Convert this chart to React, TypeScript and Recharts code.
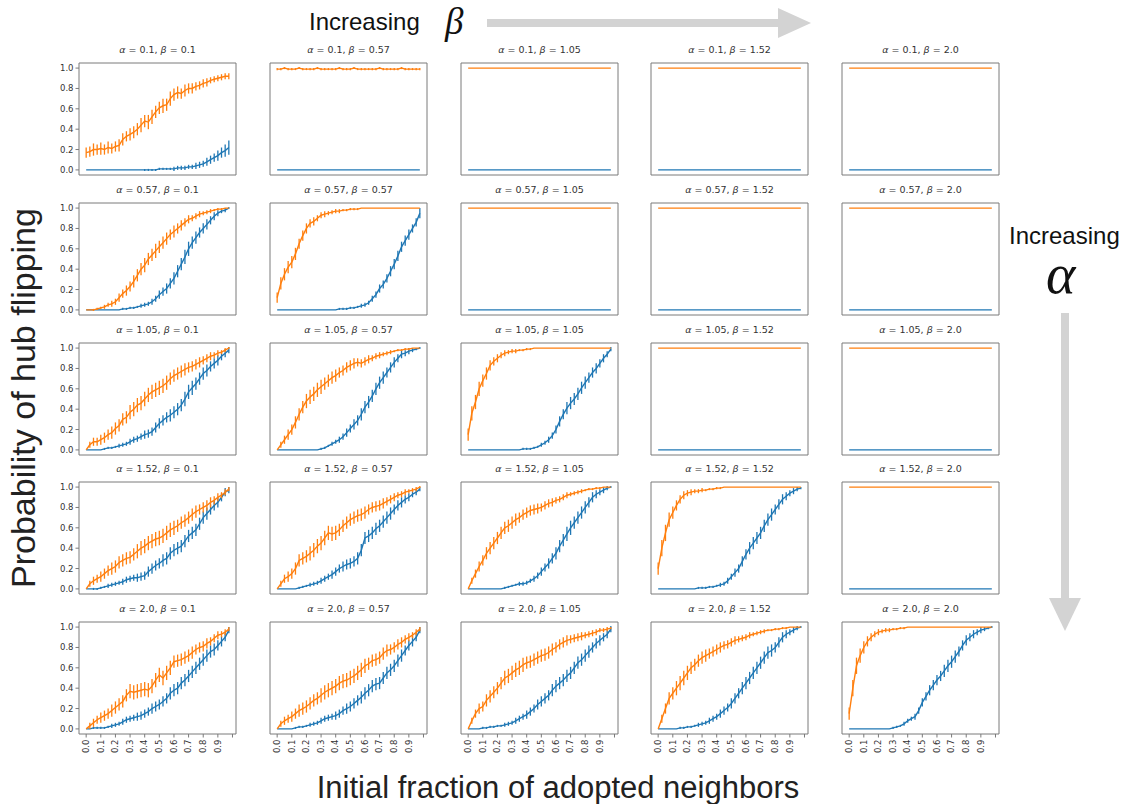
import React from 'react';
import { LineChart, Line, XAxis, YAxis, ErrorBar, ReferenceArea } from 'recharts';

// x positions of the 40 samples (initial fraction of adopted neighbors)
const X = [0, 0.025, 0.05, 0.075, 0.1, 0.125, 0.15, 0.175, 0.2, 0.225, 0.25, 0.275, 0.3, 0.325, 0.35, 0.375, 0.4, 0.425, 0.45, 0.475, 0.5, 0.525, 0.55, 0.575, 0.6, 0.625, 0.65, 0.675, 0.7, 0.725, 0.75, 0.775, 0.8, 0.825, 0.85, 0.875, 0.9, 0.925, 0.95, 0.975];

const ALPHAS = ['0.1', '0.57', '1.05', '1.52', '2.0'];
const BETAS = ['0.1', '0.57', '1.05', '1.52', '2.0'];
const X_TICKS = [0, 0.1, 0.2, 0.3, 0.4, 0.5, 0.6, 0.7, 0.8, 0.9, 1.0];
const X_TICK_LABELS = ['0.0', '0.1', '0.2', '0.3', '0.4', '0.5', '0.6', '0.7', '0.8', '0.9', ''];
const Y_TICKS = [0, 0.2, 0.4, 0.6, 0.8, 1.0];
const Y_TICK_LABELS = ['0.0', '0.2', '0.4', '0.6', '0.8', '1.0'];

// values in hundredths (probability x 100); O = orange series, B = blue series, E* = error half-length
const FLAT_ONE = [100,100,100,100,100,100,100,100,100,100, 100,100,100,100,100,100,100,100,100,100, 100,100,100,100,100,100,100,100,100,100, 100,100,100,100,100,100,100,100,100,100];
const FLAT_ZERO = [0,0,0,0,0,0,0,0,0,0, 0,0,0,0,0,0,0,0,0,0, 0,0,0,0,0,0,0,0,0,0, 0,0,0,0,0,0,0,0,0,0];

// alpha = 0.1
const O_0_0 = [17,18,20,20,21,20,22,21,23,24, 30,33,35,37,40,44,48,47,52,57, 61,63,64,70,74,76,75,78,80,80, 82,83,85,86,88,89,90,91,92,92];
const EO_0_0 = [5,5,6,5,6,5,6,5,5,6, 6,5,6,6,6,7,6,7,7,6, 6,7,6,7,6,6,5,6,5,5, 4,4,4,4,3,3,3,3,3,3];
const B_0_0 = [0,0,0,0,0,0,0,0,0,0, 0,0,0,0,0,0,0,0,0,0, 1,1,1,1,1,2,2,2,3,3, 4,5,6,8,10,12,14,17,19,22];
const EB_0_0 = [0,0,0,0,0,0,0,0,0,0, 0,0,0,0,0,0,1,1,1,1, 1,1,1,1,2,2,2,2,2,2, 3,3,3,4,4,4,5,5,6,7];
const O_0_1 = [99,99,100,99,99,99,100,99,99,99, 99,100,99,99,99,99,99,100,99,99, 99,100,99,99,99,99,99,99,100,99, 99,99,99,99,100,99,99,99,99,99];
const EO_0_1 = [1,1,1,1,1,1,1,1,1,1, 1,1,1,1,1,1,1,1,1,1, 1,1,1,1,1,1,1,1,1,1, 1,1,1,1,1,1,1,1,1,1];

// alpha = 0.57
const O_1_0 = [0,0,0,1,2,3,5,6,8,12, 16,19,23,28,34,40,44,50,54,58, 62,66,70,74,77,80,83,86,89,90, 92,94,95,96,97,98,99,99,100,100];
const EO_1_0 = [0,0,1,1,1,2,2,3,3,4, 4,5,5,6,6,6,7,6,6,7, 6,6,6,5,6,5,5,4,4,3, 3,3,2,2,2,1,1,1,0,0];
const B_1_0 = [0,0,0,0,0,0,0,0,0,0, 1,1,2,2,3,4,5,6,8,11, 15,18,21,26,31,38,45,52,60,66, 71,76,80,84,88,92,95,97,98,100];
const EB_1_0 = [0,0,0,0,0,0,0,0,0,0, 1,1,1,1,1,2,2,2,3,3, 4,4,5,5,6,6,6,7,7,6, 6,5,5,5,4,4,3,2,2,1];
const O_1_1 = [12,26,35,42,47,55,65,73,80,85, 87,90,93,94,95,96,97,97,98,98, 99,99,99,100,100,100,100,100,100,100, 100,100,100,100,100,100,100,100,100,100];
const EO_1_1 = [5,6,6,6,6,6,5,5,5,4, 4,3,3,3,2,2,2,2,1,1, 1,1,1,0,0,0,0,0,0,0, 0,0,0,0,0,0,0,0,0,0];
const B_1_1 = [0,0,0,0,0,0,0,0,0,0, 0,0,0,0,0,0,0,1,1,1, 2,2,3,4,5,7,11,15,21,25, 31,38,45,53,62,68,74,80,86,95];
const EB_1_1 = [0,0,0,0,0,0,0,0,0,0, 0,0,0,0,0,0,0,1,1,1, 1,1,1,2,2,2,3,3,4,4, 4,5,5,5,5,5,5,4,4,5];

// alpha = 1.05
const O_2_0 = [0,5,8,8,10,12,15,17,21,24, 30,32,37,40,44,46,50,54,57,59, 61,63,66,70,73,75,77,79,81,82, 84,86,88,90,92,93,95,96,98,100];
const EO_2_0 = [0,3,4,4,5,5,5,6,6,6, 6,6,7,7,7,7,7,7,7,7, 7,7,7,6,6,6,6,6,5,5, 5,5,4,4,4,3,3,2,2,1];
const B_2_0 = [0,0,0,0,0,1,2,2,3,4, 5,6,8,10,11,13,15,16,18,22, 26,29,32,34,37,40,44,50,57,61, 65,70,75,78,82,85,88,92,95,98];
const EB_2_0 = [0,0,0,0,0,1,1,1,1,2, 2,2,3,3,3,3,4,4,4,5, 5,5,5,6,6,6,6,7,7,7, 6,6,6,6,5,5,5,4,4,3];
const O_2_1 = [0,5,10,15,20,27,35,42,48,52, 55,59,62,65,68,71,73,76,78,81, 83,85,86,85,87,89,90,92,93,94, 95,96,97,98,98,99,99,100,100,100];
const EO_2_1 = [0,3,4,5,5,6,6,6,7,7, 7,7,7,6,6,6,6,5,5,5, 5,5,4,4,4,4,3,3,3,2, 2,2,1,1,1,1,1,0,0,0];
const B_2_1 = [0,0,0,0,0,0,0,0,0,0, 0,0,1,2,4,6,8,10,13,17, 21,25,29,35,42,47,53,60,66,71, 76,81,86,90,94,95,97,98,99,100];
const EB_2_1 = [0,0,0,0,0,0,0,0,0,0, 0,0,1,1,1,2,2,3,3,4, 4,5,5,6,6,6,6,6,6,6, 5,5,5,4,4,3,3,2,1,1];
const O_2_2 = [15,36,47,60,68,75,83,87,90,93, 95,96,97,97,98,98,99,99,100,100, 100,100,100,100,100,100,100,100,100,100, 100,100,100,100,100,100,100,100,100,100];
const EO_2_2 = [6,7,7,7,6,6,5,4,4,3, 3,2,2,2,1,1,1,1,0,0, 0,0,0,0,0,0,0,0,0,0, 0,0,0,0,0,0,0,0,0,0];
const B_2_2 = [0,0,0,0,0,0,0,0,0,0, 0,0,0,0,0,1,1,1,2,3, 5,7,10,14,20,28,35,41,46,50, 55,61,66,71,76,80,85,90,94,99];
const EB_2_2 = [0,0,0,0,0,0,0,0,0,0, 0,0,0,0,0,1,1,1,1,1, 2,2,3,3,4,5,5,6,6,6, 6,6,6,5,5,5,4,4,3,2];

// alpha = 1.52
const O_3_0 = [0,5,8,10,12,15,18,20,22,26, 28,30,31,34,37,40,42,45,47,49, 50,52,55,58,60,62,65,67,70,73, 76,78,80,82,85,87,90,92,95,98];
const EO_3_0 = [0,3,4,4,5,5,5,6,6,6, 6,6,6,6,7,7,7,7,7,7, 7,7,7,7,7,6,6,6,6,6, 6,5,5,5,5,4,4,3,3,2];
const B_3_0 = [0,0,0,0,1,2,3,4,5,6, 7,9,10,11,11,12,13,17,20,23, 25,28,30,35,38,40,42,47,52,55, 58,64,70,74,78,82,85,90,95,97];
const EB_3_0 = [0,0,1,1,1,1,2,2,2,2, 3,3,3,3,4,4,4,5,5,5, 5,6,6,6,6,6,6,6,6,6, 6,6,6,6,5,5,5,4,4,3];
const O_3_1 = [0,5,10,12,15,20,28,30,32,35, 38,42,45,50,55,54,55,58,62,65, 68,70,72,73,75,78,80,81,82,84, 86,88,90,92,93,95,96,97,98,100];
const EO_3_1 = [0,3,4,5,5,6,6,6,6,7, 7,7,7,7,7,7,7,6,6,6, 6,6,6,6,6,5,5,5,5,5, 4,4,4,3,3,3,2,2,2,1];
const B_3_1 = [0,0,0,0,0,0,1,2,3,4, 5,6,8,10,12,14,17,20,22,24, 25,27,30,38,50,52,55,59,62,66, 70,74,78,82,85,88,90,93,95,98];
const EB_3_1 = [0,0,0,0,0,0,1,1,1,2, 2,2,3,3,3,4,4,4,5,5, 5,5,6,6,6,6,6,6,6,6, 6,6,5,5,5,4,4,3,3,2];
const O_3_2 = [0,8,15,22,28,35,40,45,50,55, 60,62,65,68,70,73,75,77,78,79, 80,82,84,85,87,88,90,92,93,94, 95,96,97,98,98,99,99,100,100,100];
const EO_3_2 = [0,3,4,5,5,6,6,6,6,6, 6,6,6,6,5,5,5,5,5,5, 4,4,4,4,3,3,3,3,2,2, 2,2,1,1,1,1,1,0,0,0];
const B_3_2 = [0,0,0,0,0,0,0,0,0,0, 1,2,3,4,5,5,6,8,10,13, 17,21,25,30,35,42,48,54,60,65, 70,75,80,85,90,93,95,97,99,100];
const EB_3_2 = [0,0,0,0,0,0,0,0,0,0, 1,1,1,1,2,2,2,2,3,3, 4,4,5,5,6,6,6,7,7,6, 6,6,6,5,5,4,3,3,2,1];
const O_3_3 = [20,40,55,68,75,82,88,92,94,95, 96,96,97,97,98,98,99,99,100,100, 100,100,100,100,100,100,100,100,100,100, 100,100,100,100,100,100,100,100,100,100];
const EO_3_3 = [6,8,8,7,6,5,4,4,3,3, 2,2,2,1,1,1,1,1,0,0, 0,0,0,0,0,0,0,0,0,0, 0,0,0,0,0,0,0,0,0,0];
const B_3_3 = [0,0,0,0,0,0,0,0,0,0, 0,1,1,1,2,2,3,4,5,8, 12,16,20,27,34,40,45,50,55,62, 68,73,78,83,88,91,94,96,98,99];
const EB_3_3 = [0,0,0,0,0,0,0,0,0,0, 0,1,1,1,1,1,1,2,2,3, 3,4,4,5,5,6,6,6,6,6, 6,6,5,5,5,4,3,3,2,1];

// alpha = 2.0
const O_4_0 = [0,3,6,9,11,13,15,18,21,24, 27,33,37,36,37,38,39,38,42,48, 53,50,55,60,66,67,68,70,72,75, 78,80,81,84,86,89,92,93,95,98];
const EO_4_0 = [0,3,4,4,5,5,5,6,6,6, 6,6,7,7,7,7,7,7,7,7, 7,7,7,7,6,6,6,6,6,6, 5,5,5,5,4,4,4,3,3,2];
const B_4_0 = [0,0,1,1,1,1,2,3,4,5, 7,9,10,11,12,13,15,17,20,22, 24,27,30,35,38,40,45,48,52,56, 60,64,68,72,76,78,82,86,90,97];
const EB_4_0 = [0,0,1,1,1,1,1,2,2,2, 3,3,3,3,4,4,4,4,5,5, 5,5,5,6,6,6,6,6,6,6, 6,6,6,6,6,6,5,5,4,3];
const O_4_1 = [0,5,8,10,12,15,18,20,22,25, 28,30,33,36,38,40,42,45,47,48, 50,52,55,58,62,64,67,68,70,74, 77,78,80,83,85,88,90,92,95,98];
const EO_4_1 = [0,3,4,4,5,5,6,6,6,6, 6,6,7,7,7,7,7,7,7,7, 7,7,7,7,7,6,6,6,6,6, 6,5,5,5,5,4,4,3,3,2];
const B_4_1 = [0,0,0,0,0,1,2,2,3,4, 5,6,8,10,11,12,13,15,18,20, 22,25,28,31,35,38,42,44,45,50, 55,58,62,67,72,77,82,86,90,97];
const EB_4_1 = [0,0,0,0,0,1,1,1,1,2, 2,2,3,3,3,3,4,4,4,5, 5,5,5,6,6,6,6,6,6,6, 6,6,6,6,6,5,5,5,4,3];
const O_4_2 = [0,8,15,20,22,28,32,36,40,45, 50,52,55,58,60,63,65,66,68,70, 72,73,75,78,80,83,85,87,88,89, 90,91,92,93,94,95,97,97,98,99];
const EO_4_2 = [0,3,4,5,5,6,6,6,6,6, 7,7,7,7,7,7,6,6,6,6, 6,6,6,6,5,5,5,5,4,4, 4,4,3,3,3,3,2,2,2,1];
const B_4_2 = [0,0,0,0,1,1,2,2,3,3, 4,5,6,8,10,12,14,17,20,24, 27,30,33,38,42,45,48,52,55,60, 65,68,72,76,80,84,87,90,93,98];
const EB_4_2 = [0,0,0,0,1,1,1,1,1,1, 2,2,2,3,3,3,4,4,4,5, 5,5,5,6,6,6,6,6,6,6, 6,6,6,6,5,5,5,4,4,3];
const O_4_3 = [0,10,20,30,35,40,45,50,55,60, 63,67,70,72,74,76,78,80,82,83, 85,87,88,89,90,92,93,94,95,96, 97,97,98,98,99,99,100,100,100,100];
const EO_4_3 = [0,4,5,6,6,7,7,7,7,6, 6,6,6,6,5,5,5,5,4,4, 4,4,3,3,3,3,2,2,2,2, 1,1,1,1,1,1,0,0,0,0];
const B_4_3 = [0,0,0,0,0,0,1,1,2,2, 3,4,5,6,8,10,12,15,18,21, 25,30,35,40,45,50,55,60,65,70, 75,77,80,85,90,93,95,97,99,100];
const EB_4_3 = [0,0,0,0,0,0,1,1,1,1, 1,2,2,2,3,3,3,4,4,4, 5,5,5,6,6,6,6,6,6,6, 6,6,5,5,5,4,3,3,2,1];
const O_4_4 = [15,40,62,72,80,86,90,93,95,96, 97,97,98,98,99,99,100,100,100,100, 100,100,100,100,100,100,100,100,100,100, 100,100,100,100,100,100,100,100,100,100];
const EO_4_4 = [6,8,8,7,6,5,4,3,3,2, 2,2,1,1,1,1,0,0,0,0, 0,0,0,0,0,0,0,0,0,0, 0,0,0,0,0,0,0,0,0,0];
const B_4_4 = [0,0,0,0,0,0,0,0,0,0, 0,0,1,2,3,5,8,10,12,18, 26,32,38,43,48,52,57,62,66,71, 76,82,87,90,93,95,97,98,99,100];
const EB_4_4 = [0,0,0,0,0,0,0,0,0,0, 0,0,1,1,1,2,2,2,3,3, 4,4,5,5,5,5,6,6,6,6, 5,5,5,4,4,3,3,2,1,1];

const ORANGE = [
  [O_0_0, O_0_1, FLAT_ONE, FLAT_ONE, FLAT_ONE],
  [O_1_0, O_1_1, FLAT_ONE, FLAT_ONE, FLAT_ONE],
  [O_2_0, O_2_1, O_2_2, FLAT_ONE, FLAT_ONE],
  [O_3_0, O_3_1, O_3_2, O_3_3, FLAT_ONE],
  [O_4_0, O_4_1, O_4_2, O_4_3, O_4_4],
];
const ORANGE_ERR = [
  [EO_0_0, EO_0_1, FLAT_ZERO, FLAT_ZERO, FLAT_ZERO],
  [EO_1_0, EO_1_1, FLAT_ZERO, FLAT_ZERO, FLAT_ZERO],
  [EO_2_0, EO_2_1, EO_2_2, FLAT_ZERO, FLAT_ZERO],
  [EO_3_0, EO_3_1, EO_3_2, EO_3_3, FLAT_ZERO],
  [EO_4_0, EO_4_1, EO_4_2, EO_4_3, EO_4_4],
];
const BLUE = [
  [B_0_0, FLAT_ZERO, FLAT_ZERO, FLAT_ZERO, FLAT_ZERO],
  [B_1_0, B_1_1, FLAT_ZERO, FLAT_ZERO, FLAT_ZERO],
  [B_2_0, B_2_1, B_2_2, FLAT_ZERO, FLAT_ZERO],
  [B_3_0, B_3_1, B_3_2, B_3_3, FLAT_ZERO],
  [B_4_0, B_4_1, B_4_2, B_4_3, B_4_4],
];
const BLUE_ERR = [
  [EB_0_0, FLAT_ZERO, FLAT_ZERO, FLAT_ZERO, FLAT_ZERO],
  [EB_1_0, EB_1_1, FLAT_ZERO, FLAT_ZERO, FLAT_ZERO],
  [EB_2_0, EB_2_1, EB_2_2, FLAT_ZERO, FLAT_ZERO],
  [EB_3_0, EB_3_1, EB_3_2, EB_3_3, FLAT_ZERO],
  [EB_4_0, EB_4_1, EB_4_2, EB_4_3, EB_4_4],
];

const BLUE_C = '#1f77b4';
const ORANGE_C = '#ff7f0e';
const SPINE = '#7a7a7a';
const TXT = '#333333';
const ARROW = '#d3d3d3';

// layout
const FRAME_L0 = 79;
const COL_STEP = 190.75;
const FRAME_T0 = 63;
const ROW_STEP = 139.75;
const FW = 157;
const FH = 112;
const YAW = 30;
const MT = 2;
const MR = 3;
const XAH = 30;

const RotTick = (props: any) => {
  const { x, y, index } = props;
  const label = X_TICK_LABELS[index] ?? '';
  return (
    <text x={x} y={y} transform={`rotate(-90 ${x} ${y})`} textAnchor="end" dy="0.32em"
      fontSize={8.5} fill={TXT} fontFamily="DejaVu Sans">{label}</text>
  );
};

const Panel = ({ r, c }: { r: number; c: number }) => {
  const frameL = Math.round(FRAME_L0 + COL_STEP * c);
  const frameT = Math.round(FRAME_T0 + ROW_STEP * r);
  const O = ORANGE[r][c];
  const EO = ORANGE_ERR[r][c];
  const B = BLUE[r][c];
  const EB = BLUE_ERR[r][c];
  const data = X.map((x, i) => ({ x, o: O[i] / 100, oe: EO[i] / 100, b: B[i] / 100, be: EB[i] / 100 }));
  const showY = c === 0;
  const showX = r === 4;
  return (
    <>
      <div style={{ position: 'absolute', left: frameL - 20, width: FW + 40, top: frameT - 20, height: 14,
        lineHeight: '14px', fontSize: 9.5, fontFamily: 'DejaVu Sans', color: TXT, textAlign: 'center', whiteSpace: 'pre' }}>
        <i>α</i>{` = ${ALPHAS[r]}, `}<i>β</i>{` = ${BETAS[c]}`}
      </div>
      <div style={{ position: 'absolute', left: frameL - YAW, top: frameT - MT }}>
        <LineChart width={YAW + FW + MR} height={MT + FH + XAH} data={data}
          margin={{ top: MT, right: MR, left: 0, bottom: 0 }}>
          <XAxis type="number" dataKey="x" domain={[-0.049, 1.024]} allowDataOverflow ticks={X_TICKS}
            interval={0} height={XAH} axisLine={false} tickSize={3.5} tickLine={{ stroke: SPINE }}
            tick={showX ? <RotTick /> : false} tickMargin={2} />
          <YAxis type="number" domain={[-0.05, 1.05]} allowDataOverflow ticks={Y_TICKS} interval={0}
            width={YAW} axisLine={false} tickSize={3.5} tickLine={{ stroke: SPINE }}
            tick={showY ? { fontSize: 8.5, fill: TXT, fontFamily: 'DejaVu Sans' } : false}
            tickFormatter={(v: number) => Y_TICK_LABELS[Y_TICKS.indexOf(v)] ?? ''} tickMargin={2} />
          <ReferenceArea x1={-0.049} x2={1.024} y1={-0.05} y2={1.05} fill="none" stroke={SPINE}
            strokeWidth={1} ifOverflow="visible" />
          <Line type="linear" dataKey="b" stroke={BLUE_C} strokeWidth={1.4} dot={false} activeDot={false}
            isAnimationActive={false}>
            <ErrorBar dataKey="be" width={0} stroke={BLUE_C} strokeWidth={1.3} direction="y" />
          </Line>
          <Line type="linear" dataKey="o" stroke={ORANGE_C} strokeWidth={1.4} dot={false} activeDot={false}
            isAnimationActive={false}>
            <ErrorBar dataKey="oe" width={0} stroke={ORANGE_C} strokeWidth={1.3} direction="y" />
          </Line>
        </LineChart>
      </div>
    </>
  );
};

export default function App() {
  const rows = [0, 1, 2, 3, 4];
  const cols = [0, 1, 2, 3, 4];
  return (
    <div style={{ position: 'absolute', left: 0, top: 0, width: 1126, height: 804, background: '#fff', overflow: 'hidden' }}>
      {rows.map((r) => cols.map((c) => <Panel key={`${r}-${c}`} r={r} c={c} />))}

      {/* decorations: arrows */}
      <svg width={1126} height={804} style={{ position: 'absolute', left: 0, top: 0, pointerEvents: 'none' }}>
        <rect x={487} y={19} width={292} height={8} fill={ARROW} />
        <polygon points="778,8 811,23 778,38" fill={ARROW} />
        <rect x={1061} y={313} width={8} height={286} fill={ARROW} />
        <polygon points="1049,598 1081,598 1065,631" fill={ARROW} />
      </svg>

      <div style={{ position: 'absolute', left: 309, top: 6, fontSize: 24, lineHeight: '32px',
        fontFamily: 'Liberation Sans, Arial, sans-serif', color: '#111' }}>Increasing</div>
      <div style={{ position: 'absolute', left: 445, top: -2, fontSize: 37, lineHeight: '48px',
        fontFamily: 'Liberation Serif, serif', fontStyle: 'italic', color: '#111' }}>β</div>

      <div style={{ position: 'absolute', left: 1009, top: 220, fontSize: 24, lineHeight: '32px',
        fontFamily: 'Liberation Sans, Arial, sans-serif', color: '#111' }}>Increasing</div>
      <div style={{ position: 'absolute', left: 1046, top: 242, fontSize: 56, lineHeight: '64px',
        fontFamily: 'Liberation Serif, serif', fontStyle: 'italic', color: '#111' }}>α</div>

      <div style={{ position: 'absolute', left: 0, top: 768, width: 1116, textAlign: 'center', fontSize: 31,
        lineHeight: '40px', fontFamily: 'Liberation Sans, Arial, sans-serif', color: '#222' }}>
        Initial fraction of adopted neighbors
      </div>
      <div style={{ position: 'absolute', left: 23, top: 398, width: 0, height: 0 }}>
        <div style={{ position: 'absolute', left: -250, top: -20, width: 500, height: 40, lineHeight: '40px',
          textAlign: 'center', transform: 'rotate(-90deg)', fontSize: 34,
          fontFamily: 'Liberation Sans, Arial, sans-serif', color: '#222', whiteSpace: 'nowrap' }}>
          Probability of hub flipping
        </div>
      </div>
    </div>
  );
}
